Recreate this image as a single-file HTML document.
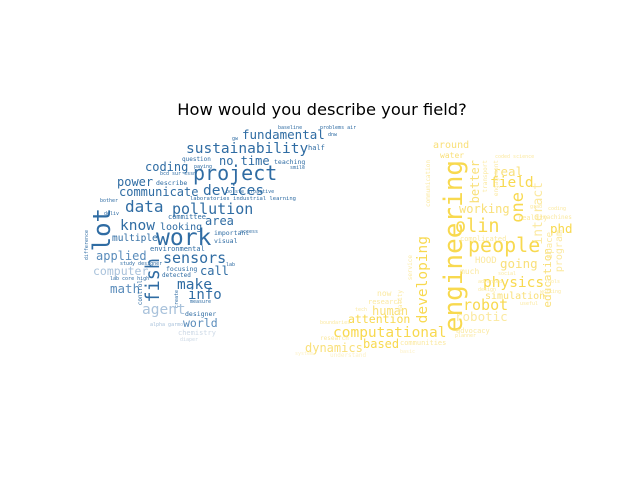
<!DOCTYPE html>
<html><head><meta charset="utf-8">
<style>
body{margin:0;background:#fff;}
#c{position:relative;width:640px;height:480px;overflow:hidden;background:#fff;font-family:"DejaVu Sans Mono","Liberation Mono",monospace;}
.w{position:absolute;line-height:1;white-space:nowrap;}
.v{writing-mode:vertical-rl;transform:rotate(180deg);}
.b{color:#2f6ca3}.b2{color:#5a8cbb}.b3{color:#a9c2db}.b4{color:#cdd9e6}
.y{color:#f8d94f}.y2{color:#f9e07a}.y3{color:#fbe9a0}.y4{color:#fcf1c6}
#t{position:absolute;left:2px;width:640px;top:100px;text-align:center;font:16.3px "DejaVu Sans","Liberation Sans",sans-serif;color:#000;}
</style></head><body>
<div id="c">
<div id="t">How would you describe your field?</div>
<div>
<div class="w b" style="left:242px;top:129px;font-size:12.5px">fundamental</div>
<div class="w b" style="left:186px;top:142px;font-size:14.5px">sustainability</div>
<div class="w b" style="left:193px;top:163px;font-size:20px">project</div>
<div class="w b" style="left:219px;top:155px;font-size:12px">no time</div>
<div class="w b" style="left:145px;top:161px;font-size:12px">coding</div>
<div class="w b" style="left:117px;top:176px;font-size:12px">power</div>
<div class="w b" style="left:119px;top:186px;font-size:12px">communicate</div>
<div class="w b" style="left:203px;top:184px;font-size:14.5px">devices</div>
<div class="w b" style="left:125px;top:199px;font-size:16px">data</div>
<div class="w b" style="left:172px;top:202px;font-size:15px">pollution</div>
<div class="w b v" style="left:90px;top:208px;font-size:24px">lot</div>
<div class="w b" style="left:120px;top:219px;font-size:14.5px">know</div>
<div class="w b" style="left:205px;top:215px;font-size:12px">area</div>
<div class="w b" style="left:160px;top:223px;font-size:10px">looking</div>
<div class="w b" style="left:156px;top:227px;font-size:23px">work</div>
<div class="w b" style="left:112px;top:234px;font-size:9.5px">multiple</div>
<div class="w b2" style="left:96px;top:250px;font-size:12px">applied</div>
<div class="w b" style="left:163px;top:251px;font-size:15px">sensors</div>
<div class="w b v" style="left:145px;top:258px;font-size:18.5px">fish</div>
<div class="w b3" style="left:93px;top:266px;font-size:11.5px">computer</div>
<div class="w b" style="left:200px;top:265px;font-size:12px">call</div>
<div class="w b" style="left:177px;top:278px;font-size:14.5px">make</div>
<div class="w b2" style="left:110px;top:283px;font-size:12.5px">math</div>
<div class="w b" style="left:188px;top:288px;font-size:14px">info</div>
<div class="w b3" style="left:142px;top:303px;font-size:14.5px">agent</div>
<div class="w b2" style="left:183px;top:318px;font-size:11.5px">world</div>
<div class="w b" style="left:185px;top:311px;font-size:6.5px">designer</div>
<div class="w b4" style="left:178px;top:330px;font-size:7px">chemistry</div>
<div class="w b4" style="left:180px;top:338px;font-size:5px">diaper</div>
<div class="w b3" style="left:150px;top:323px;font-size:5px">alpha garmo</div>
<div class="w b" style="left:150px;top:246px;font-size:7px">environmental</div>
<div class="w b" style="left:168px;top:214px;font-size:7px">committee</div>
<div class="w b" style="left:214px;top:238px;font-size:6.5px">visual</div>
<div class="w b" style="left:214px;top:230px;font-size:6.5px">important</div>
<div class="w b" style="left:156px;top:180px;font-size:6.5px">describe</div>
<div class="w b" style="left:274px;top:159px;font-size:6.5px">teaching</div>
<div class="w b" style="left:308px;top:145px;font-size:7px">half</div>
<div class="w b" style="left:190px;top:197px;font-size:5.5px">laboratories industrial learning</div>
<div class="w b" style="left:166px;top:266px;font-size:6.5px">focusing</div>
<div class="w b" style="left:162px;top:273px;font-size:6px">detected</div>
<div class="w b" style="left:110px;top:277px;font-size:5px">lab core high</div>
<div class="w b" style="left:120px;top:262px;font-size:5px">study designer</div>
<div class="w b" style="left:320px;top:126px;font-size:5px">problems air</div>
<div class="w b" style="left:278px;top:126px;font-size:5px">baseline</div>
<div class="w b" style="left:328px;top:133px;font-size:5px">dnw</div>
<div class="w b" style="left:232px;top:137px;font-size:5px">gw</div>
<div class="w b" style="left:160px;top:172px;font-size:5px">bcd sur sssn</div>
<div class="w b" style="left:226px;top:190px;font-size:5px">bo ste proactive</div>
<div class="w b" style="left:182px;top:157px;font-size:6px">question</div>
<div class="w b" style="left:194px;top:165px;font-size:5px">paying</div>
<div class="w b" style="left:290px;top:166px;font-size:5px">smile</div>
<div class="w b" style="left:100px;top:199px;font-size:5px">bother</div>
<div class="w b" style="left:104px;top:212px;font-size:5px">deliv</div>
<div class="w b" style="left:240px;top:230px;font-size:5px">access</div>
<div class="w b" style="left:226px;top:263px;font-size:5px">lab</div>
<div class="w b" style="left:190px;top:300px;font-size:5px">measure</div>
<div class="w b v" style="left:85px;top:230px;font-size:5px">difference</div>
<div class="w b v" style="left:138px;top:280px;font-size:6px">control</div>
<div class="w b v" style="left:175px;top:290px;font-size:5px">create</div>
</div>
<div>
<div class="w y v" style="left:441px;top:160px;font-size:26px">engineering</div>
<div class="w y" style="left:468px;top:235px;font-size:20px">people</div>
<div class="w y" style="left:455px;top:218px;font-size:18.5px">olin</div>
<div class="w y v" style="left:510px;top:192px;font-size:17px">one</div>
<div class="w y" style="left:490px;top:176px;font-size:14.5px">field</div>
<div class="w y2" style="left:493px;top:166px;font-size:12.5px">real</div>
<div class="w y2 v" style="left:469px;top:160px;font-size:12px">better</div>
<div class="w y2" style="left:459px;top:203px;font-size:12px">working</div>
<div class="w y" style="left:550px;top:223px;font-size:12.5px">phd</div>
<div class="w y3 v" style="left:532px;top:182px;font-size:13px">interact</div>
<div class="w y2 v" style="left:542px;top:248px;font-size:11px">education</div>
<div class="w y v" style="left:416px;top:236px;font-size:14.5px">developing</div>
<div class="w y2" style="left:500px;top:258px;font-size:12.5px">going</div>
<div class="w y" style="left:483px;top:276px;font-size:14.5px">physics</div>
<div class="w y2" style="left:485px;top:292px;font-size:10px">simulation</div>
<div class="w y" style="left:463px;top:298px;font-size:15px">robot</div>
<div class="w y3" style="left:455px;top:311px;font-size:12.5px">robotic</div>
<div class="w y2" style="left:433px;top:141px;font-size:10px">around</div>
<div class="w y2" style="left:440px;top:152px;font-size:8px">water</div>
<div class="w y3" style="left:475px;top:257px;font-size:9px">HOOD</div>
<div class="w y3" style="left:460px;top:268px;font-size:8px">much</div>
<div class="w y2" style="left:372px;top:305px;font-size:12px">human</div>
<div class="w y" style="left:348px;top:314px;font-size:11.5px">attention</div>
<div class="w y" style="left:333px;top:326px;font-size:14.5px">computational</div>
<div class="w y" style="left:363px;top:338px;font-size:12px">based</div>
<div class="w y2" style="left:305px;top:342px;font-size:12px">dynamics</div>
<div class="w y3" style="left:377px;top:290px;font-size:8px">now</div>
<div class="w y3" style="left:368px;top:299px;font-size:7px">research</div>
<div class="w y3" style="left:400px;top:340px;font-size:7px">communities</div>
<div class="w y3" style="left:456px;top:328px;font-size:7px">advocacy</div>
<div class="w y3" style="left:460px;top:236px;font-size:7px">complicated</div>
<div class="w y3" style="left:518px;top:215px;font-size:7px">reality</div>
<div class="w y3" style="left:543px;top:215px;font-size:6px">machines</div>
<div class="w y4" style="left:330px;top:353px;font-size:6px">understand</div>
<div class="w y3" style="left:320px;top:336px;font-size:6px">research</div>
<div class="w y3 v" style="left:555px;top:230px;font-size:10px">program</div>
<div class="w y3 v" style="left:546px;top:232px;font-size:9px">space</div>
<div class="w y3 v" style="left:426px;top:160px;font-size:6px">communication</div>
<div class="w y3 v" style="left:408px;top:255px;font-size:6px">service</div>
<div class="w y3 v" style="left:398px;top:290px;font-size:6px">reality</div>
<div class="w y3 v" style="left:483px;top:160px;font-size:6px">transport</div>
<div class="w y3 v" style="left:494px;top:160px;font-size:6px">engagement</div>
<div class="w y3" style="left:495px;top:155px;font-size:5px">coded science</div>
<div class="w y3" style="left:478px;top:280px;font-size:5px">advanced</div>
<div class="w y3" style="left:478px;top:288px;font-size:5px">design</div>
<div class="w y3" style="left:498px;top:272px;font-size:5px">social</div>
<div class="w y3" style="left:520px;top:302px;font-size:5px">useful</div>
<div class="w y3" style="left:545px;top:280px;font-size:5px">tools</div>
<div class="w y3" style="left:540px;top:290px;font-size:5px">working</div>
<div class="w y3" style="left:530px;top:205px;font-size:5px">grad</div>
<div class="w y3" style="left:548px;top:207px;font-size:5px">coding</div>
<div class="w y3" style="left:355px;top:308px;font-size:5px">tech</div>
<div class="w y3" style="left:320px;top:321px;font-size:5px">boundaries</div>
<div class="w y4" style="left:295px;top:352px;font-size:5px">system</div>
<div class="w y3" style="left:455px;top:334px;font-size:5px">planner</div>
<div class="w y4" style="left:400px;top:350px;font-size:5px">basic</div>
</div>
</div>
</body></html>
